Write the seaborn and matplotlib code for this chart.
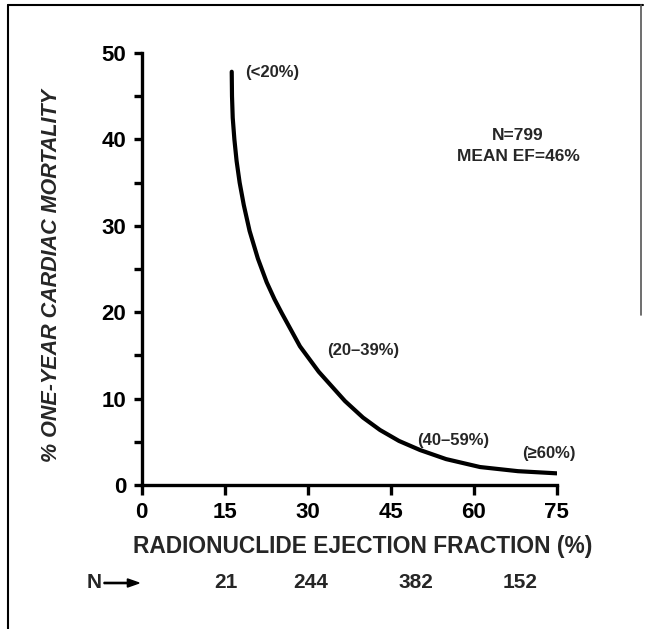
import matplotlib
matplotlib.use("Agg")
import matplotlib.pyplot as plt
from matplotlib.ticker import MultipleLocator
from matplotlib.lines import Line2D
import seaborn as sns
import pandas as pd

# Data
ef = [16.27, 16.32, 16.45, 16.75, 17.15, 17.7, 18.45, 19.5, 21.0,
      22.59, 24.0, 25.30, 28.6, 32.0, 36.73, 40.0, 43.06, 46.5, 50.29,
      55.0, 61.14, 68.0, 75.0]
mortality = [47.83, 45.0, 42.5, 40.0, 37.5, 35.0, 32.4, 29.4, 26.2,
             23.46, 21.5, 19.91, 16.05, 13.1, 9.72, 7.8, 6.37, 5.1, 4.05,
             3.0, 2.08, 1.6, 1.35]

group_labels = ["(<20%)", "(20\u201339%)", "(40\u201359%)", "(\u226560%)"]
group_label_x = [18.7, 33.6, 49.7, 68.7]
group_label_y = [47.7, 15.6, 5.2, 3.7]

group_n = ["21", "244", "382", "152"]
group_n_x = [15.2, 30.6, 49.6, 68.4]

x_ticks = [0, 15, 30, 45, 60, 75]
y_ticks = [0, 10, 20, 30, 40, 50]

sns.set_theme(style="white")
plt.rcParams["font.family"] = ["Liberation Sans", "DejaVu Sans"]

fig = plt.figure(figsize=(6.45, 6.29), dpi=100)
ax = fig.add_axes([141.7 / 645, 1 - 485 / 629, (556.7 - 141.7) / 645, (485 - 53) / 629])

df = pd.DataFrame({"ef": ef, "mort": mortality})
sns.lineplot(data=df, x="ef", y="mort", sort=False, color="black", linewidth=3.0, ax=ax)
for l in ax.get_lines():
    l.set_solid_joinstyle("round")

ax.set_xlim(0, 75)
ax.set_ylim(0, 50)
ax.set_xticks(x_ticks)
ax.set_yticks(y_ticks)
ax.yaxis.set_minor_locator(MultipleLocator(5))
ax.set_xlabel("")
ax.set_ylabel("")

for s in ["top", "right"]:
    ax.spines[s].set_visible(False)
for s in ["left", "bottom"]:
    ax.spines[s].set_linewidth(2.4)
    ax.spines[s].set_color("black")

ax.tick_params(axis="x", which="major", direction="out", length=7, width=2.4,
               bottom=True, labelsize=16, pad=5, colors="black")
ax.tick_params(axis="y", which="both", direction="out", length=6, width=2.4,
               left=True, labelsize=16, pad=5, colors="black")
for lab in ax.get_xticklabels() + ax.get_yticklabels():
    lab.set_fontweight("bold")

for t, x, y in zip(group_labels, group_label_x, group_label_y):
    ax.text(x, y, t, fontsize=12, fontweight="bold", ha="left", va="center", clip_on=False)

ax.text(68.0, 40.5, "N=799", fontsize=12.5, fontweight="bold", ha="center", va="center")
ax.text(68.0, 38.0, "MEAN EF=46%", fontsize=12.5, fontweight="bold", ha="center", va="center")

fig.text(363 / 645, 1 - 547 / 629, "RADIONUCLIDE EJECTION FRACTION (%)",
         fontsize=16.4, ha="center", va="center", fontweight="bold")
fig.text(51.7 / 645, 1 - 276 / 629, "% ONE-YEAR CARDIAC MORTALITY",
         fontsize=15.5, ha="center", va="center", rotation=90,
         fontstyle="italic", fontweight="bold")

ny = 1 - 583 / 629
fig.text(94 / 645, ny, "N", fontsize=15, fontweight="bold", ha="center", va="center")
fig.patches.append(matplotlib.patches.FancyArrow(
    104 / 645, ny, 35 / 645, 0, width=0.002, head_width=0.013, head_length=0.018,
    length_includes_head=True, color="black", transform=fig.transFigure))
for t, x in zip(group_n, group_n_x):
    px = 141.7 + x * (556.7 - 141.7) / 75
    fig.text(px / 645, ny, t, fontsize=15, fontweight="bold", ha="center", va="center")

# frame
fig.add_artist(Line2D([8 / 645, 643 / 645], [1 - 5 / 629, 1 - 5 / 629], color="black",
                      linewidth=1.5, transform=fig.transFigure))
fig.add_artist(Line2D([8 / 645, 8 / 645], [0, 1 - 5 / 629], color="black",
                      linewidth=1.5, transform=fig.transFigure))
fig.add_artist(Line2D([641 / 645, 641 / 645], [1 - 315 / 629, 1 - 5 / 629], color="#555555",
                      linewidth=1.2, transform=fig.transFigure))

fig.savefig("out.png", dpi=100)
